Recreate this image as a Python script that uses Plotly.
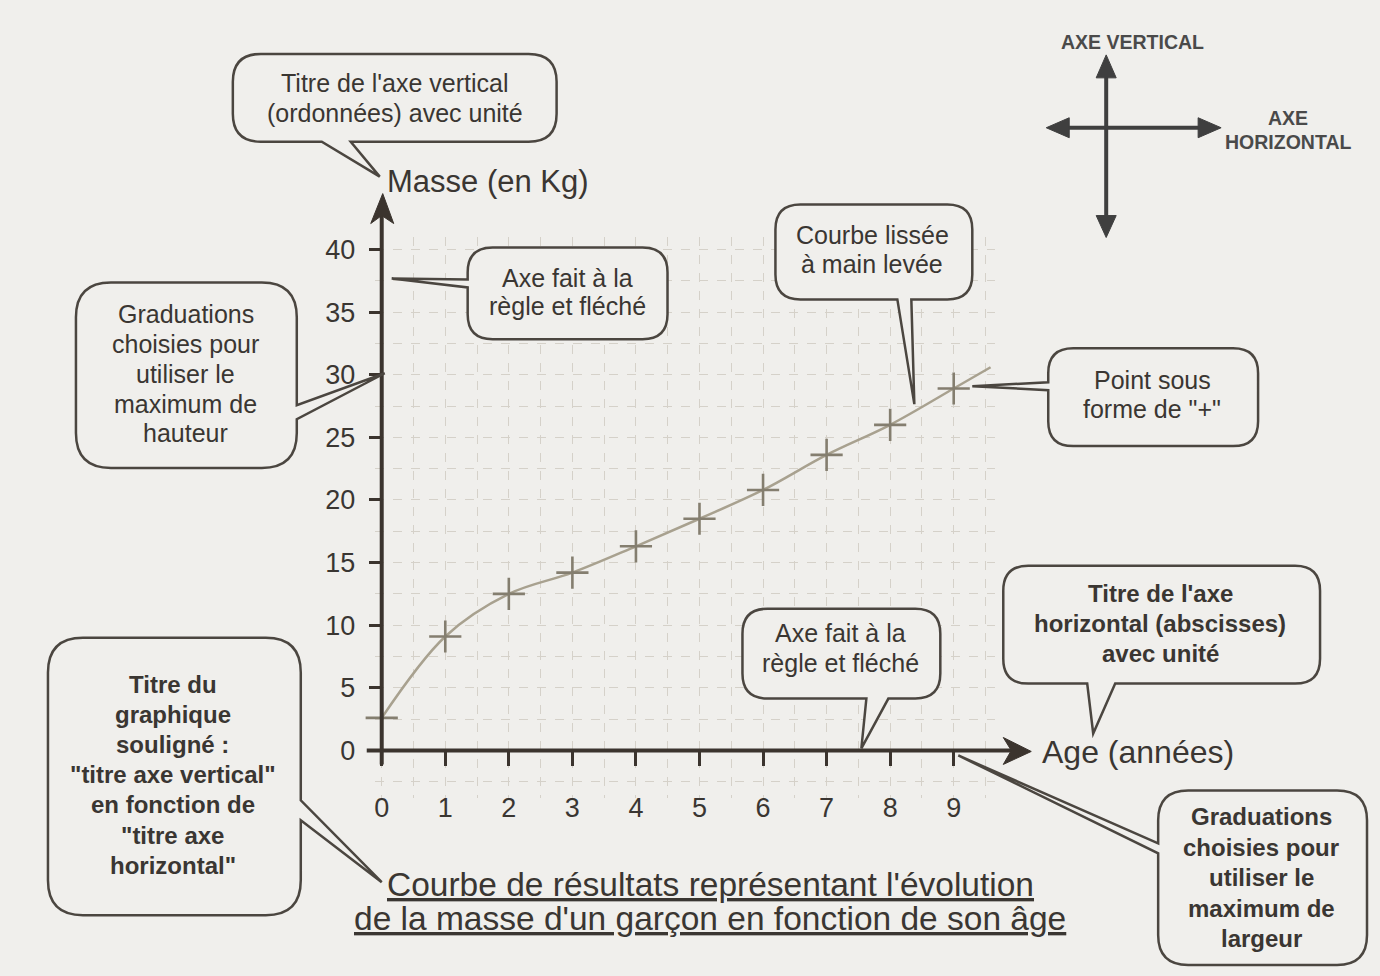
import plotly.graph_objects as go

# ---------------- data ----------------
age = [0, 1, 2, 3, 4, 5, 6, 7, 8, 9]
masse = [2.6, 9.1, 12.5, 14.2, 16.3, 18.5, 20.8, 23.6, 26.0, 28.9]
curve_end_age = [9.58]
curve_end_masse = [30.6]
x_ticks = [0, 1, 2, 3, 4, 5, 6, 7, 8, 9]
y_ticks = [0, 5, 10, 15, 20, 25, 30, 35, 40]

x_title = "Age (années)"
y_title = "Masse (en Kg)"
title_lines = ["Courbe de résultats représentant l'évolution",
               "de la masse d'un garçon en fonction de son âge"]

# ---------------- geometry / style ----------------
W, H = 1380, 976
X0, XS = 381, 63.6     # pixel of age 0, pixels per year
Y0, YS = 750, 12.55    # pixel of mass 0, pixels per kg
xr = [-0.1, 9.65]
yr = [-3.8, 41.0]

BG = "#f0efec"
TXT = "#3a3632"
AX = "#3b342e"
OUT = "#4b4640"
GRID = "#d5d1c9"
FONT = "Liberation Sans, Arial, sans-serif"


def P(x, y):
    return f"{x / W:.5f},{1 - y / H:.5f}"


def bubble(x0, y0, x1, y1, r, side, a, b, tip):
    d = f"M{P(x0 + r, y0)}"
    if side == "top":
        d += f" L{P(a, y0)} L{P(*tip)} L{P(b, y0)}"
    d += f" L{P(x1 - r, y0)} Q{P(x1, y0)} {P(x1, y0 + r)}"
    if side == "right":
        d += f" L{P(x1, a)} L{P(*tip)} L{P(x1, b)}"
    d += f" L{P(x1, y1 - r)} Q{P(x1, y1)} {P(x1 - r, y1)}"
    if side == "bottom":
        d += f" L{P(b, y1)} L{P(*tip)} L{P(a, y1)}"
    d += f" L{P(x0 + r, y1)} Q{P(x0, y1)} {P(x0, y1 - r)}"
    if side == "left":
        d += f" L{P(x0, b)} L{P(*tip)} L{P(x0, a)}"
    d += f" L{P(x0, y0 + r)} Q{P(x0, y0)} {P(x0 + r, y0)} Z"
    return d


callouts = [
    dict(box=(232, 52, 556, 140), r=28, side="bottom", a=321, b=350, tip=(379, 175),
         lines=["Titre de l'axe vertical", "(ordonnées) avec unité"], ys=[81, 111], cx=394, bold=False),
    dict(box=(467, 246, 667, 338), r=25, side="left", a=278, b=286, tip=(391, 277),
         lines=["Axe fait à la", "règle et fléché"], ys=[277, 305], cx=567, bold=False),
    dict(box=(75, 281, 296, 467), r=35, side="right", a=404, b=418, tip=(384, 372),
         lines=["Graduations", "choisies pour", "utiliser le", "maximum de", "hauteur"],
         ys=[313, 343, 373, 403, 432], cx=185, bold=False),
    dict(box=(775, 203, 972, 298), r=25, side="bottom", a=897, b=911, tip=(914, 403),
         lines=["Courbe lissée", "à main levée"], ys=[233, 263], cx=872, bold=False),
    dict(box=(1048, 347, 1258, 445), r=25, side="left", a=381, b=389, tip=(972, 385),
         lines=["Point sous", "forme de \"+\""], ys=[379, 408], cx=1152, bold=False),
    dict(box=(1003, 565, 1320, 683), r=25, side="bottom", a=1087, b=1115, tip=(1093, 733),
         lines=["Titre de l'axe", "horizontal (abscisses)", "avec unité"], ys=[593, 623, 653], cx=1160, bold=True),
    dict(box=(742, 608, 940, 698), r=25, side="bottom", a=866, b=888, tip=(861, 748),
         lines=["Axe fait à la", "règle et fléché"], ys=[632, 662], cx=840, bold=False),
    dict(box=(47, 637, 300, 915), r=35, side="right", a=800, b=820, tip=(381, 882),
         lines=["Titre du", "graphique", "souligné :", "\"titre axe vertical\"", "en fonction de",
                "\"titre axe", "horizontal\""],
         ys=[684, 714, 744, 774, 804, 835, 865], cx=172, bold=True),
    dict(box=(1158, 790, 1367, 965), r=30, side="left", a=843, b=853, tip=(958, 755),
         lines=["Graduations", "choisies pour", "utiliser le", "maximum de", "largeur"],
         ys=[816, 847, 877, 908, 938], cx=1261, bold=True),
]

fig = go.Figure()

# smoothed hand-drawn curve
fig.add_trace(go.Scatter(
    x=age + curve_end_age, y=masse + curve_end_masse, mode="lines",
    line=dict(color="#a8a18f", width=2.5, shape="spline", smoothing=1.0),
    hoverinfo="skip", cliponaxis=False))
# "+" points
fig.add_trace(go.Scatter(
    x=age, y=masse, mode="markers",
    marker=dict(symbol="cross-thin", size=23, color="#847e6f",
                line=dict(color="#847e6f", width=2.6)),
    cliponaxis=False))

shapes = []
annotations = []

# axes drawn with ruler + arrows
shapes.append(dict(type="line", xref="paper", yref="paper",
                   x0=X0 / W, y0=1 - 764 / H, x1=X0 / W, y1=1 - 212 / H,
                   line=dict(color=AX, width=4), layer="above"))
shapes.append(dict(type="path", xref="paper", yref="paper",
                   path=f"M{P(X0 + 1, 192)} L{P(X0 + 12, 222)} L{P(X0, 214)} L{P(X0 - 11, 222)} Z",
                   fillcolor=AX, line=dict(color=AX, width=1), layer="above"))
shapes.append(dict(type="line", xref="paper", yref="paper",
                   x0=366 / W, y0=1 - Y0 / H, x1=1012 / W, y1=1 - Y0 / H,
                   line=dict(color=AX, width=4), layer="above"))
shapes.append(dict(type="path", xref="paper", yref="paper",
                   path=f"M{P(1031, Y0 + 1)} L{P(1003, Y0 - 13)} L{P(1011, Y0)} L{P(1003, Y0 + 14)} Z",
                   fillcolor=AX, line=dict(color=AX, width=1), layer="above"))

# callout bubbles
for c in callouts:
    x0, y0, x1, y1 = c["box"]
    shapes.append(dict(type="path", xref="paper", yref="paper",
                       path=bubble(x0, y0, x1, y1, c["r"], c["side"], c["a"], c["b"], c["tip"]),
                       fillcolor=BG, line=dict(color=OUT, width=2.5), layer="above"))
    for t, yy in zip(c["lines"], c["ys"]):
        annotations.append(dict(
            text=t, x=c["cx"] / W, y=1 - yy / H, xref="paper", yref="paper",
            xanchor="center", yanchor="middle", showarrow=False,
            font=dict(family=FONT, size=24 if c["bold"] else 25, color=TXT,
                      weight="bold" if c["bold"] else "normal")))

# axis titles
annotations.append(dict(text=y_title, x=384 / W, y=1 - 180 / H, xref="paper", yref="paper",
                        xanchor="left", yanchor="middle", showarrow=False,
                        font=dict(family=FONT, size=31, color=TXT)))
annotations.append(dict(text=x_title, x=1040 / W, y=1 - 752 / H, xref="paper", yref="paper",
                        xanchor="left", yanchor="middle", showarrow=False,
                        font=dict(family=FONT, size=32, color=TXT)))

# underlined chart title
for t, yy in zip(title_lines, [884, 918]):
    annotations.append(dict(text=t, x=710 / W, y=1 - yy / H, xref="paper", yref="paper",
                            xanchor="center", yanchor="middle", showarrow=False,
                            font=dict(family=FONT, size=33.5, color=TXT, lineposition="under")))

# small reference diagram (top right)
MC = "#3f3f3f"
shapes.append(dict(type="line", xref="paper", yref="paper", x0=1106 / W, y0=1 - 68 / H,
                   x1=1106 / W, y1=1 - 220 / H, line=dict(color=MC, width=4)))
shapes.append(dict(type="line", xref="paper", yref="paper", x0=1062 / W, y0=1 - 126 / H,
                   x1=1205 / W, y1=1 - 126 / H, line=dict(color=MC, width=4)))
for tri in [
    [(1106, 53), (1116, 76), (1096, 76)],
    [(1106, 236), (1116, 214), (1096, 214)],
    [(1046, 126), (1069, 116), (1069, 136)],
    [(1221, 126), (1198, 116), (1198, 136)],
]:
    shapes.append(dict(type="path", xref="paper", yref="paper",
                       path=f"M{P(*tri[0])} L{P(*tri[1])} L{P(*tri[2])} Z",
                       fillcolor=MC, line=dict(color=MC, width=1)))
for t, xx, yy in [("AXE VERTICAL", 1132, 40), ("AXE", 1288, 116), ("HORIZONTAL", 1288, 140)]:
    annotations.append(dict(text=t, x=xx / W, y=1 - yy / H, xref="paper", yref="paper",
                            xanchor="center", yanchor="middle", showarrow=False,
                            font=dict(family=FONT, size=19.5, color="#4a4a4a", weight="bold")))

fig.update_layout(
    width=W, height=H, margin=dict(l=0, r=0, t=0, b=0),
    paper_bgcolor=BG, plot_bgcolor=BG, showlegend=False,
    shapes=shapes, annotations=annotations,
    xaxis=dict(
        domain=[(X0 + XS * xr[0]) / W, (X0 + XS * xr[1]) / W], range=xr,
        anchor="free", position=1 - Y0 / H,
        tickmode="array", tickvals=x_ticks, ticktext=[str(v) for v in x_ticks],
        ticks="outside", ticklen=15, tickwidth=3, tickcolor=AX,
        tickfont=dict(family=FONT, size=27, color=TXT), ticklabelstandoff=18,
        showline=False, zeroline=False,
        showgrid=True, gridcolor=GRID, gridwidth=1, griddash="dash",
        minor=dict(tickmode="linear", tick0=0, dtick=0.5, showgrid=True,
                   gridcolor=GRID, gridwidth=1, griddash="dash"),
        fixedrange=True),
    yaxis=dict(
        domain=[1 - (Y0 - YS * yr[0]) / H, 1 - (Y0 - YS * yr[1]) / H], range=yr,
        anchor="free", position=X0 / W,
        tickmode="array", tickvals=y_ticks, ticktext=[str(v) for v in y_ticks],
        ticks="outside", ticklen=13, tickwidth=3, tickcolor=AX,
        tickfont=dict(family=FONT, size=27, color=TXT), ticklabelstandoff=8,
        showline=False, zeroline=False,
        showgrid=True, gridcolor=GRID, gridwidth=1, griddash="dash",
        minor=dict(tickmode="linear", tick0=0, dtick=2.5, showgrid=True,
                   gridcolor=GRID, gridwidth=1, griddash="dash"),
        fixedrange=True),
)

fig.write_html("out.html", config={"displayModeBar": False},
               post_script="document.body.style.margin='0px';")
